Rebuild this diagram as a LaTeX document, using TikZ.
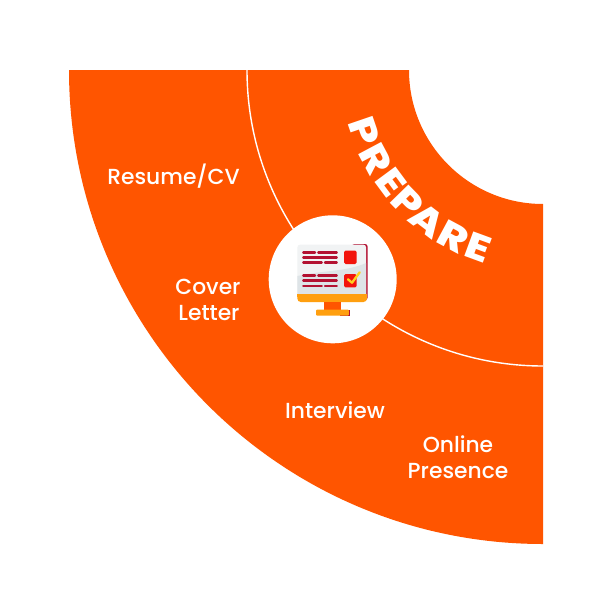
\documentclass[tikz,border=0pt]{standalone}
\usepackage{fontspec}
\setmainfont{Poppins Medium}[BoldFont={Poppins ExtraBold}]
\usetikzlibrary{calc}
\definecolor{prepareorange}{HTML}{FF5500}
\definecolor{screenred}{HTML}{B31232}
\definecolor{screengrey}{HTML}{DEE4E7}
\definecolor{screenlight}{HTML}{F1F3F4}
\definecolor{standorange}{HTML}{FF9F0F}
\definecolor{boxred}{HTML}{F2140C}
\definecolor{checkyellow}{HTML}{FFD21E}
\tikzset{
	label/.style={text=white, font=\fontsize{21.8}{26}\selectfont, inner sep=0pt},
	letter/.style={text=white, font=\fontsize{37}{37}\selectfont\bfseries, inner sep=0pt, xscale=1.18},
	textline/.style={line width=2.5pt, screenred, line cap=round},
}

\begin{document}
\begin{tikzpicture}[x=1pt,y=-1pt]
	\useasboundingbox (0,0) rectangle (612,613);
	\fill[white] (0,0) rectangle (612,613);
	% centre of the arcs is the corner (543,70)
	\coordinate (c) at (543,70);
	\fill[prepareorange] (69,70) arc[start angle=180, end angle=270, radius=474, y radius=-474]
		-- (543,204) arc[start angle=270, end angle=180, radius=134, y radius=-134] -- cycle;
	\draw[white, line width=1.4pt] (247,70) arc[start angle=180, end angle=270, radius=296, y radius=-296];
	\node[circle, fill=white, minimum size=128pt, inner sep=0pt] (hub) at (332.7,279.3) {};
	% letters on the arc
	\foreach \ch/\ang [count=\i] in {P/18.9, R/28, E/36.5, P/44.3, A/52.5, R/61.7, E/69.8}{
		\node[rotate=\ang-90, letter] (l\i) at ($(c)+({-189*cos(\ang)},{189*sin(\ang)})$) {\ch};
	}
	\node[label, align=center] (resume) at (173.5,176) {Resume/CV};
	\node[label, align=left] (cover) at (208,300) {Cover\\\hspace*{3pt}Letter};
	\node[label, align=center] (interview) at (335,410) {Interview};
	\node[label, align=center] (online) at (458,457) {Online\\Presence};
	% monitor
	\fill[screenred, rounded corners=2.5pt] (352,244) -- (367.6,244) -- (367.6,300) -- (352,300) -- cycle;
	\fill[screenlight, rounded corners=3pt] (297.3,244.6) -- (366.2,244.6) -- (366.2,298) -- (297.3,298) -- cycle;
	\fill[screengrey] (297.3,276) .. controls (325,270) and (345,272) .. (366.2,263) -- (366.2,296) -- (297.3,296) -- cycle;
	\fill[standorange, rounded corners=3.5pt] (297.3,294) -- (297.3,302) -- (367,302) -- (367,294) -- cycle;
	\fill[standorange] (297.3,294) rectangle (367,297);
	\fill[prepareorange] (324,302) rectangle (341,309.5);
	\fill[screenred] (340,309.5) rectangle (349.6,315.7);
	\fill[standorange, rounded corners=1pt] (316,309.5) rectangle (348.8,315.7);
	\foreach \yy/\xa/\xb in {252.3/315/318.3, 262.7/321.7/325, 275.7/315/318.3, 286/321.7/325}{
		\draw[textline] (303.3,\yy) -- (\xa,\yy);
		\draw[textline] (\xb,\yy) -- (336.7,\yy);
	}
	\foreach \yy in {257.3,280.7}{
		\draw[textline] (303.3,\yy) -- (336.7,\yy);
	}
	\fill[boxred, rounded corners=1.5pt] (344,250.7) rectangle (356.7,264);
	\fill[boxred, rounded corners=1.5pt] (344,274) rectangle (356.7,287.3);
	\draw[line width=2.3pt, checkyellow, line cap=round, line join=round] (348,279.3) -- (352,282.7) -- (359.7,272.3);
\end{tikzpicture}
\end{document}
